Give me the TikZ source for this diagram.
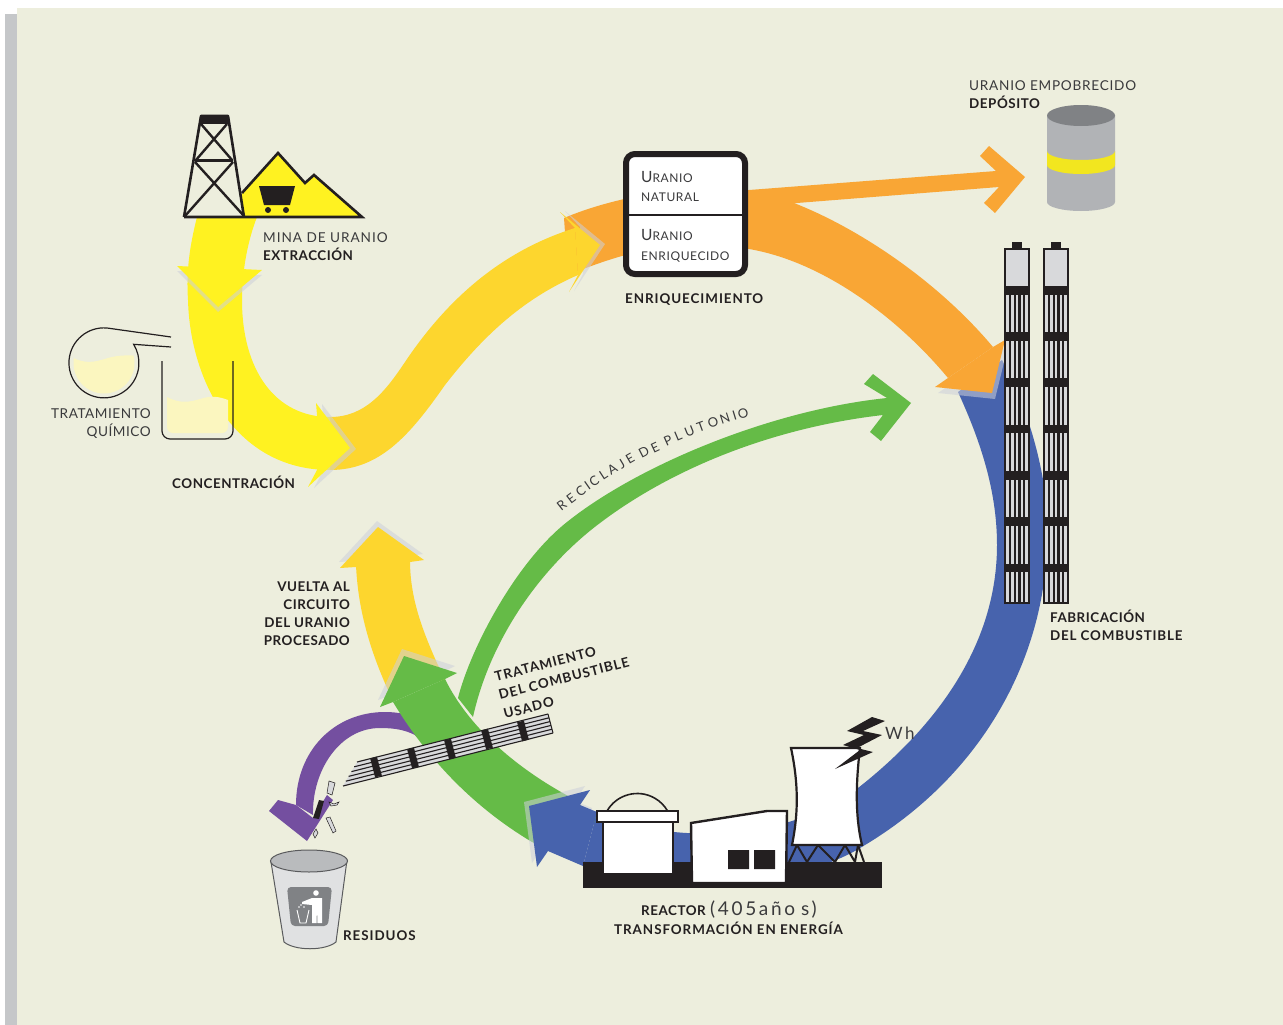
\documentclass[tikz,border=0pt]{standalone}
\usepackage{fontspec}
\setmainfont{Lato}
\usetikzlibrary{calc}
\definecolor{bgc}{HTML}{EDEEDD}
\definecolor{strip}{HTML}{C5C7C9}
\definecolor{ink}{HTML}{231F20}
\definecolor{txt}{HTML}{3A3A3C}
\definecolor{yel}{HTML}{FFF221}
\definecolor{gold}{HTML}{FDD62E}
\definecolor{ora}{HTML}{F9A635}
\definecolor{blu}{HTML}{4763AD}
\definecolor{gre}{HTML}{65BB47}
\definecolor{pur}{HTML}{744FA0}
\definecolor{pale}{HTML}{FBF6BF}
\definecolor{lgr}{HTML}{D8D9DB}
\definecolor{mgr}{HTML}{B1B3B6}
\definecolor{dgr}{HTML}{808285}
\definecolor{shd}{HTML}{CDD0DA}
\tikzset{
  shadowbit/.style={fill=shd,opacity=.55},
  lab/.style={inner sep=0pt,anchor=base west,text=txt,font=\fontsize{13.6}{16}\selectfont\addfontfeature{LetterSpace=4}},
  labw/.style={lab,font=\fontsize{13.6}{16}\selectfont\addfontfeature{LetterSpace=7}},
  labr/.style={lab,anchor=base east},
  bld/.style={inner sep=0pt,anchor=base west,text=ink,font=\fontsize{13.4}{16}\selectfont\bfseries\addfontfeature{LetterSpace=4}},
  bldw/.style={bld,font=\fontsize{13.4}{16}\selectfont\bfseries\addfontfeature{LetterSpace=7}},
  bldr/.style={bld,anchor=base east},
  caps/.style={inner sep=0pt,anchor=base west,text=txt,font=\fontsize{12}{14}\selectfont\addfontfeature{LetterSpace=5}},
}
\newcommand{\bigU}{{\fontsize{15.5}{16}\selectfont U}}
\def\headY{(177,266) -- (218,307) -- (262,270) -- cycle}
\def\headC{(316,403) -- (350,448) -- (308,487) -- (317,470) -- (317,415) -- cycle}
\def\headG{(560,212) -- (600,245) -- (569,292) -- (578,275) -- (575,228) -- cycle}
\def\headO{(1005,340) -- (992,393) -- (935,387) -- (948,378) -- (993,347) -- cycle}
\def\headB{(590,790) -- (529,806) -- (537,867) -- (548,851) -- (583,866) -- (597,812) -- (580,805) -- cycle}
\def\headV{(340,568) -- (378,527) -- (424,560) -- (410,562) -- (356,567) -- cycle}
\def\headN{(380,707) -- (404,656) -- (457,673) -- (445,679) -- (393,702) -- cycle}
\begin{document}
\begin{tikzpicture}[x=1pt,y=-1pt]
\useasboundingbox (0,0) rectangle (1283,1025);
\fill[white] (0,0) rectangle (1283,1025);
\fill[strip] (5,14) rectangle (17,1025);
\fill[bgc] (17,8) rectangle (1283,1025);

% return gold arrow
\fill[shadowbit,shift={(-1,-6)}] \headV;
\fill[gold] (356,565) .. controls (358,610) and (370,650) .. (388,690) -- (445,680) -- (437,663) .. controls (420,625) and (410,595) .. (410,560) -- cycle;
\fill[gold] \headV;

% purple arrow
\fill[pur] (296,805) .. controls (296,750) and (335,712) .. (385,712) .. controls (405,712) and (420,718) .. (432,727) -- (425,745) -- (415,735) .. controls (405,730) and (395,728) .. (380,728) .. controls (340,728) and (312,770) .. (313,815) -- cycle;
\fill[pur] (278,800) -- (269,811) -- (307,841) -- (333,800) -- (327,795) -- (313,818) -- (296,805) -- cycle;

% plutonium green arrow
\fill[gre] (458,698) .. controls (470,650) and (515,563) .. (567,522) .. controls (637,466) and (770,410) .. (887,398) -- (864,384) -- (873,374) -- (911,403) -- (881,441) -- (870,432) -- (883,415) .. controls (770,428) and (670,470) .. (600,523) .. controls (540,568) and (490,640) .. (473,717) -- cycle;

% big green arrow
\fill[shadowbit,shift={(-2,-7)}] \headN;
\fill[gre] (445,679) .. controls (470,730) and (520,770) .. (570,797) -- (600,820) -- (550,850) -- (532,842) .. controls (470,805) and (425,755) .. (393,702) -- cycle;
\fill[gre] \headN;

% blue band
\fill[blu] (958,392) .. controls (980,440) and (997,490) .. (997,545) .. controls (997,640) and (942,722) .. (858,788) .. controls (800,835) and (680,850) .. (597,812) -- (583,866) .. controls (660,900) and (800,885) .. (860,848) .. controls (985,775) and (1052,650) .. (1047,520) .. controls (1047,480) and (1030,410) .. (1002,360) -- cycle;
\fill[shadowbit,shift={(-5,-4)}] \headB;
\fill[blu] \headB;

% orange bands
\fill[ora] (749,190) -- (996,171) -- (980,156) -- (989,146) -- (1025,177) -- (995,213) -- (984,203) -- (999,187) -- (797,203) -- (730,215) -- cycle;
\fill[ora] (564,218) .. controls (590,207) and (630,195) .. (680,190) -- (749,190) .. controls (810,200) and (920,260) .. (993,347) -- (948,378) .. controls (900,320) and (825,262) .. (749,249) -- (680,245) .. controls (640,248) and (600,262) .. (568,275) -- cycle;
\fill[shadowbit,shift={(3,6)}] \headO;
\fill[ora] \headO;

% gold band
\fill[shadowbit,shift={(5,-1)}] \headG;
\fill[gold] (330,417) .. controls (365,417) and (385,392) .. (405,362) .. controls (450,295) and (505,250) .. (575,228) -- (578,275) .. controls (520,300) and (480,340) .. (445,385) .. controls (410,435) and (380,470) .. (330,470) -- cycle;
\fill[gold] \headG;

% yellow band
\fill[yel] (197,217) .. controls (190,245) and (186,270) .. (188,300) .. controls (190,380) and (235,470) .. (330,470) -- (330,417) .. controls (275,417) and (242,370) .. (242,300) .. controls (242,270) and (248,240) .. (257,217) -- cycle;
\fill[shadowbit,shift={(0,5)}] \headY;
\fill[yel] \headY;
\fill[shadowbit,shift={(6,1)}] \headC;
\fill[yel] \headC;

% mine
\fill[yel] (242,193) -- (278,153) -- (305,183) -- (314,175) -- (362,217) -- (242,217) -- cycle;
\draw[ink,line width=2.6pt,line join=miter] (242,193) -- (278,153) -- (305,183) -- (314,175) -- (362,217) -- (184,217);
\draw[ink,line width=2.6pt,line join=round] (184,217) -- (201,116) -- (228,116) -- (244,217);
\fill[ink] (200,115) rectangle (229,124);
\draw[ink,line width=3pt] (195,160) -- (233,160);
\draw[ink,line width=2.4pt] (201,124) -- (232,160) (227,124) -- (196,160) (195,162) -- (244,216) (233,162) -- (185,216);
\fill[ink] (259,186) -- (295,186) -- (290,205) -- (264,205) -- cycle;
\fill[ink] (268,210) circle (3) (286,210) circle (3);

% flask and beaker
\begin{scope}
\clip (104,363) circle (30.5);
\fill[pale] (70,356) .. controls (85,365) and (95,362) .. (108,358) .. controls (118,355) and (130,355) .. (140,356) -- (140,400) -- (70,400) -- cycle;
\end{scope}
\draw[ink,line width=1.2pt] (171,337) -- (107,328) arc[start angle=-85,end angle=-392,radius=35] -- (171,347);
\fill[pale] (167,397) .. controls (180,404) and (190,402) .. (200,399) .. controls (212,395) and (220,397) .. (228,400) -- (228,427) arc[start angle=0,end angle=90,radius=6] -- (173,433) arc[start angle=90,end angle=180,radius=6] -- cycle;
\draw[ink,line width=1.2pt] (162,361) -- (162,431) arc[start angle=180,end angle=90,radius=8] -- (225,439) arc[start angle=90,end angle=0,radius=8] -- (233,361);

% enrichment box
\draw[ink,line width=6pt,fill=white,rounded corners=9pt] (626,154) rectangle (745,274);
\draw[ink,line width=2pt] (626,215) -- (745,215);

% depleted uranium drum
\fill[mgr] (1047,115) -- (1047,202) arc[start angle=180,end angle=0,x radius=34,y radius=9] -- (1115,115) -- cycle;
\fill[yel!95!black] (1047,151) arc[start angle=180,end angle=0,x radius=34,y radius=9] -- (1115,165) arc[start angle=0,end angle=180,x radius=34,y radius=9] -- cycle;
\fill[dgr] (1081,115.5) ellipse[x radius=34,y radius=10.5];

% fuel rods
\foreach \rx in {1005,1044} {
\begin{scope}[shift={(\rx,0)}]
\fill[ink] (7,242) rectangle (17,250);
\fill[lgr] (0,249) rectangle (24,603);
\foreach \k in {1,...,4} \fill[ink] ({\k*4.8-1.1},294) rectangle ({\k*4.8+1.1},603);
\foreach \b in {286,332,378,424.5,471,517,563.5} \fill[ink] (0,\b) rectangle (24,\b+8.5);
\draw[ink,line width=1.4pt] (0,249) rectangle (24,603);
\end{scope}}

% reactor
\fill[ink] (583,862) rectangle (882,888);
\draw[ink,line width=2.4pt,fill=white] (603,822) rectangle (673,874);
\draw[ink,line width=1.6pt] (607,811) arc[start angle=210,end angle=330,radius=35];
\draw[ink,line width=2.2pt,fill=white] (597,811) rectangle (678,822);
\draw[ink,line width=2.4pt,fill=white] (691,823) -- (767,811) -- (787,811) -- (786,883) -- (692,883) -- cycle;
\fill[ink] (728,850) rectangle (749,869) (754,850) rectangle (775,869);
\draw[ink,line width=2.2pt,fill=white] (791,748) .. controls (800,790) and (797,820) .. (792,845) -- (862,845) .. controls (856,820) and (855,790) .. (860,748) -- cycle;
\draw[ink,line width=2pt,line join=round] (789,862) -- (797,845) -- (807,862) -- (818,845) -- (835,862) -- (845,845) -- (855,862) -- (858,845) -- (864,862);
\fill[ink] (885,721) -- (872,717) -- (847,731) -- (864,735) -- (843,745) -- (860,750) -- (835,769) -- (873,752) -- (857,748) -- (882,735) -- (863,731) -- cycle;

% spent fuel element
\coordinate (fa) at (343,786); \coordinate (fb) at (357,762);
\coordinate (fc) at (548,714); \coordinate (fd) at (553,733);
\fill[lgr] (fa) -- (fb) -- (fc) -- (fd) -- cycle;
\foreach \t in {0,.2,.4,.6,.8,1} \draw[ink,line width=1.1pt] ($(fa)!\t!(fb)$) -- ($(fd)!\t!(fc)$);
\draw[ink,line width=1pt] (fc) -- (fd);
\foreach \cx/\cy in {376/767,413/758,450/749,487/739,523/731}
  \draw[ink,line width=7pt] (\cx-2.5,\cy-9.5) -- (\cx+2.5,\cy+9.5);

% debris
\draw[ink,line width=.5pt,fill=lgr] (329,781) -- (335,783) -- (332,795) -- (327,793) -- cycle;
\fill[ink] (319,800) -- (324,801) -- (319,819) -- (313,818) -- cycle;
\draw[ink,line width=.5pt,fill=lgr] (326,818) -- (330,817) -- (336,831) -- (333,833) -- cycle;
\draw[ink,line width=.5pt,fill=lgr] (329,802) -- (331,806) -- (337,805) -- (339,802) -- (334,804) -- cycle;
\draw[ink,line width=.5pt,fill=lgr] (316,829) -- (318,833) -- (315,838) -- (313,834) -- cycle;

% bin
\draw[dgr!70!black,line width=1pt,fill=lgr!80!white] (271,862) -- (284,942) .. controls (295,951) and (325,951) .. (336,942) -- (347,860) -- cycle;
\draw[dgr!70!black,line width=1pt,fill=mgr!90!white] (309,861) ellipse[x radius=38.5,y radius=11];
\fill[dgr,rounded corners=4pt] (287,887) -- (332,887) -- (328,926) -- (291,926) -- cycle;
\fill[white] (316,893) circle (2.8);
\fill[white] (312,898) -- (322,898) -- (322,923) -- (317.5,923) -- (317,908) -- (316.5,923) -- (312,923) -- (312,905) -- (302,904) -- (302,902) -- cycle;
\draw[white,line width=.9pt] (297,910) -- (300,923) -- (306,923) -- (309,910);
\fill[white] (301,905) circle (.8) (304,907) circle (.8) (299,907) circle (.8);

% labels
\node[labw] (mina) at (263,242) {MINA DE URANIO};
\node[bld] (extr) at (263,260) {EXTRACCIÓN};
\node[labr] (trat1) at (151,418) {TRATAMIENTO};
\node[labr] (trat2) at (151,436) {QUÍMICO};
\node[bld] (conc) at (172,488) {CONCENTRACIÓN};
\node[caps] (un1) at (641,182) {\bigU RANIO};
\node[caps] (un2) at (641,201) {NATURAL};
\node[caps] (ue1) at (641,240) {\bigU RANIO};
\node[caps] (ue2) at (641,260) {ENRIQUECIDO};
\node[bldw] (enri) at (625,303) {ENRIQUECIMIENTO};
\node[lab,font=\fontsize{13.6}{16}\selectfont\addfontfeature{LetterSpace=5.5}] (emp) at (969,91) {URANIO EMPOBRECIDO};
\node[bld] (dep) at (969,109) {DEPÓSITO};
\node[bld] (fab1) at (1050,622) {FABRICACIÓN};
\node[bld,font=\fontsize{13.4}{16}\selectfont\bfseries\addfontfeature{LetterSpace=6}] (fab2) at (1050,640) {DEL COMBUSTIBLE};
\node[bldr] (vu1) at (350,591) {VUELTA AL};
\node[bldr] (vu2) at (350,609) {CIRCUITO};
\node[bldr] (vu3) at (350,627) {DEL URANIO};
\node[bldr] (vu4) at (350,645) {PROCESADO};
\node[bldw,rotate=14.6] (tr1) at (496,682) {TRATAMIENTO};
\node[bldw,rotate=14.6] (tr2) at (500,700) {DEL COMBUSTIBLE};
\node[bldw,rotate=14.6] (tr3) at (505,719) {USADO};
\node[bldw] (res) at (343,940) {RESIDUOS};
\node[bld] (rea) at (641,915) {REACTOR};
\node[lab,font=\fontsize{19}{20}\selectfont\addfontfeature{LetterSpace=14}] (anos) at (710,915) {(405año\hspace{6pt}s)};
\node[bldw] (trans) at (614,934) {TRANSFORMACIÓN EN ENERGÍA};
\node[lab,font=\fontsize{17}{20}\selectfont\addfontfeature{LetterSpace=14}] (wh) at (885,739) {Wh};

\foreach \lx/\ly/\la/\c [count=\n] in {561.7/505/38/R,571/498.3/37/E,580.7/491/36/C,587.5/486/35/I,594/481.7/34/C,603.5/475/33/L,612.5/469/32/A,621.5/464/31/J,630/459/30/E,644/451.7/27/D,655/447.3/25/E,668/440.7/24/P,678/436/23/L,689.5/431/22/U,701/427/20/T,713/422.3/19/O,725/418.3/18/N,734.5/416/17/I,743/414/16/O}
  \node[inner sep=0pt,rotate=\la,text=txt,font=\fontsize{13}{15}\selectfont] (rp\n) at (\lx,\ly) {\c};
\end{tikzpicture}
\end{document}
